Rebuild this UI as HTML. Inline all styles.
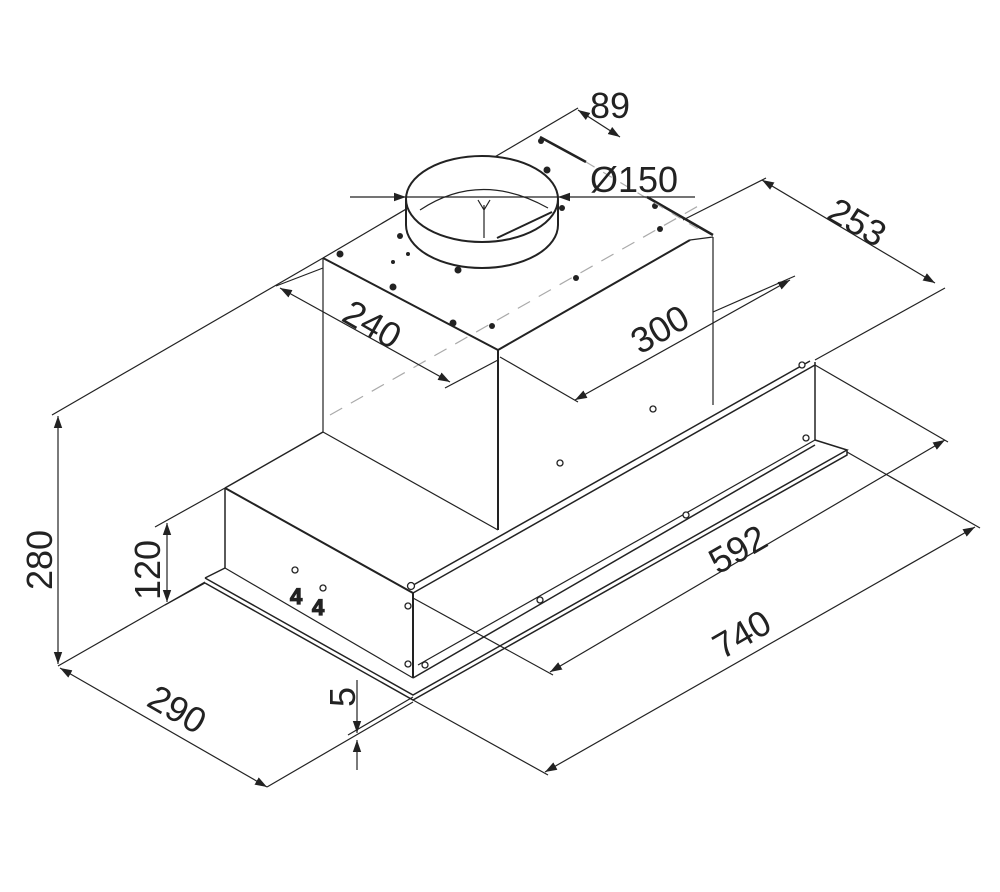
<!DOCTYPE html>
<html><head><style>
html,body{margin:0;padding:0;background:#fff;}
svg{display:block;}
text{font-family:"Liberation Sans",sans-serif;font-size:36px;fill:#222;}
</style></head><body>
<svg width="1000" height="892" viewBox="0 0 1000 892" xmlns="http://www.w3.org/2000/svg">
<defs>
<marker id="a" viewBox="0 0 10 10" refX="10" refY="5" markerWidth="12" markerHeight="12" markerUnits="userSpaceOnUse" orient="auto-start-reverse"><path d="M0,1.5 L10,5 L0,8.5 z" fill="#222"/></marker>
</defs>
<g stroke="#222" stroke-width="1.2" fill="none">
<!-- dashed center -->
<line x1="330" y1="415" x2="700" y2="205" stroke="#aaa" stroke-dasharray="14,10"/>
<!-- chimney -->
<line x1="323" y1="258" x2="323" y2="432"/>
<line x1="498" y1="350" x2="498" y2="530" stroke-width="2"/>
<line x1="713" y1="237" x2="713" y2="405"/>
<line x1="323" y1="258" x2="498" y2="350" stroke-width="2"/>
<line x1="498" y1="350" x2="690" y2="240" stroke-width="2"/>
<line x1="690" y1="240" x2="713" y2="237"/>
<line x1="323" y1="432" x2="498" y2="530"/>
<line x1="323" y1="258" x2="578" y2="108"/>
<!-- ring -->
<ellipse cx="482" cy="225" rx="76" ry="43" stroke-width="2" fill="#fff"/>
<rect x="406" y="199" width="152" height="26" fill="#fff" stroke="none"/>
<ellipse cx="482" cy="199" rx="76" ry="43" stroke-width="2" fill="#fff"/>
<line x1="406" y1="199" x2="406" y2="225" stroke-width="2"/>
<line x1="558" y1="199" x2="558" y2="225" stroke-width="2"/>
<path d="M420,210 Q480,170 548,208"/>
<path d="M484,205 L484,238 M478,200 L484,210 L490,200"/>
<line x1="497" y1="238" x2="552" y2="212" stroke-width="2"/>
<!-- lower box -->
<line x1="225" y1="488" x2="323" y2="432" stroke-width="1.5"/>
<line x1="225" y1="488" x2="413" y2="593" stroke-width="2"/>
<line x1="225" y1="488" x2="225" y2="568" stroke-width="1.5"/>
<line x1="413" y1="593" x2="413" y2="678" stroke-width="2"/>
<line x1="413" y1="593" x2="815" y2="365" stroke-width="1.5"/>
<line x1="408" y1="588" x2="810" y2="361" stroke-width="1.5"/>
<line x1="815" y1="362" x2="815" y2="440" stroke-width="1.5"/>
<line x1="418" y1="665" x2="815" y2="440"/>
<line x1="413" y1="678" x2="815" y2="445" stroke-width="1.5"/>
<line x1="225" y1="568" x2="413" y2="678"/>
<!-- plate -->
<path d="M205,578 L225,568 M205,578 L413,695 L847,450 L815,440 M205,583 L413,700 L847,455 L847,450" stroke-width="1.5"/>
<!-- screws -->
<g fill="#fff" stroke-width="1.3">
<circle cx="411" cy="586" r="3.5"/><circle cx="408" cy="606" r="3"/><circle cx="408" cy="664" r="3"/><circle cx="425" cy="665" r="3"/>
<circle cx="540" cy="600" r="3"/><circle cx="686" cy="515" r="3"/><circle cx="806" cy="438" r="3"/><circle cx="802" cy="365" r="3"/>
<circle cx="560" cy="463" r="3"/><circle cx="653" cy="409" r="3"/>
<circle cx="295" cy="570" r="3"/><circle cx="323" cy="588" r="3"/>
</g>
<g fill="#222" stroke="none">
<circle cx="340" cy="254" r="3.5"/><circle cx="393" cy="287" r="3.5"/><circle cx="453" cy="323" r="3.5"/><circle cx="492" cy="326" r="3"/>
<circle cx="400" cy="236" r="3"/><circle cx="458" cy="270" r="3.5"/><circle cx="576" cy="278" r="3"/><circle cx="655" cy="206" r="3"/><circle cx="660" cy="229" r="3"/>
<circle cx="541" cy="141" r="3"/><circle cx="547" cy="170" r="3.5"/><circle cx="562" cy="208" r="3"/><circle cx="393" cy="262" r="2"/><circle cx="408" cy="254" r="2"/>
</g>
<text x="290" y="604" style="font-size:22px;font-weight:bold">4</text>
<text x="312" y="615" style="font-size:22px;font-weight:bold">4</text>
<!-- dim 280 -->
<line x1="52" y1="415" x2="323" y2="258"/>
<line x1="58" y1="666" x2="205" y2="582"/>
<line x1="58" y1="416" x2="58" y2="664" marker-start="url(#a)" marker-end="url(#a)"/>
<!-- 120 -->
<line x1="155" y1="527" x2="225" y2="488"/>
<line x1="165" y1="605" x2="205" y2="583"/>
<line x1="167" y1="523" x2="167" y2="602" marker-start="url(#a)" marker-end="url(#a)"/>
<!-- 290 -->
<line x1="60" y1="668" x2="267" y2="787" marker-start="url(#a)" marker-end="url(#a)"/>
<line x1="267" y1="787" x2="413" y2="702"/>
<!-- 5 -->
<line x1="357" y1="680" x2="357" y2="733" marker-end="url(#a)"/>
<line x1="357" y1="770" x2="357" y2="740" marker-end="url(#a)"/>
<line x1="348" y1="735" x2="413" y2="697"/>
<!-- 740 -->
<line x1="413" y1="700" x2="548" y2="775"/>
<line x1="847" y1="452" x2="980" y2="528"/>
<line x1="545" y1="772" x2="975" y2="527" marker-start="url(#a)" marker-end="url(#a)"/>
<!-- 592 -->
<line x1="413" y1="598" x2="553" y2="675"/>
<line x1="815" y1="365" x2="948" y2="442"/>
<line x1="550" y1="672" x2="945" y2="440" marker-start="url(#a)" marker-end="url(#a)"/>
<!-- 300 -->
<line x1="500" y1="357" x2="578" y2="402"/>
<line x1="713" y1="312" x2="795" y2="276"/>
<line x1="575" y1="400" x2="790" y2="280" marker-start="url(#a)" marker-end="url(#a)"/>
<!-- 240 -->
<line x1="323" y1="268" x2="276" y2="286"/>
<line x1="498" y1="360" x2="445" y2="388"/>
<line x1="280" y1="288" x2="450" y2="382" marker-start="url(#a)" marker-end="url(#a)"/>
<!-- 253 -->
<line x1="683" y1="220" x2="766" y2="178"/>
<line x1="647" y1="197" x2="713" y2="235" stroke-width="2.5"/>
<line x1="815" y1="360" x2="945" y2="288"/>
<line x1="762" y1="180" x2="935" y2="283" marker-start="url(#a)" marker-end="url(#a)"/>
<!-- 89 -->
<line x1="540" y1="137" x2="586" y2="162" stroke-width="2.5"/>
<line x1="578" y1="110" x2="620" y2="137" marker-start="url(#a)" marker-end="url(#a)"/>
<line x1="586" y1="162" x2="700" y2="230" stroke="#aaa" stroke-dasharray="10,10"/>
<!-- 150 -->
<line x1="350" y1="197" x2="406" y2="197" marker-end="url(#a)"/>
<line x1="695" y1="197" x2="558" y2="197" marker-end="url(#a)"/>
<line x1="406" y1="197" x2="558" y2="197"/>
</g>
<text transform="translate(52,590) rotate(-90)">280</text>
<text transform="translate(160,600) rotate(-90)">120</text>
<text transform="translate(145,705) rotate(30)">290</text>
<text transform="translate(355,707) rotate(-90)">5</text>
<text transform="translate(722,660) rotate(-30)">740</text>
<text transform="translate(718,575) rotate(-30)">592</text>
<text transform="translate(640,355) rotate(-30)">300</text>
<text transform="translate(340,320) rotate(30)">240</text>
<text transform="translate(825,218) rotate(30)">253</text>
<text x="590" y="118">89</text>
<text x="590" y="192">Ø150</text>
</svg>
</body></html>
